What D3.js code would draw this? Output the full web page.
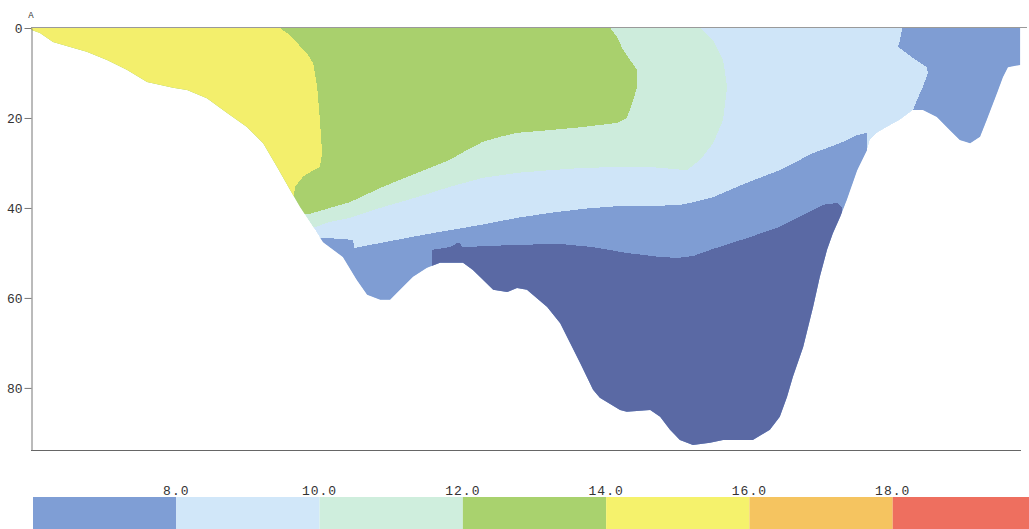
<!DOCTYPE html>
<html>
<head>
<meta charset="utf-8">
<script src="https://cdn.jsdelivr.net/npm/d3@7"></script>
<style>
  html, body { margin: 0; padding: 0; background: #ffffff; }
  svg { display: block; }
</style>
</head>
<body>
<svg id="chart" width="1029" height="529"></svg>
<script>
// ---- Section data: distance along section (km) and depth (m) ----
const depthTicks = [0, 20, 40, 60, 80];
const legendBreaks = [8, 10, 12, 14, 16, 18];
const legendColors = ["#7f9ed5", "#d1e7f9", "#cfeedd", "#a9d26e", "#f5f26c", "#f5c460", "#ee6f5f"];

// temperature classes drawn inside the section
const classColors = {
  below6: "#5a69a4",
  from6to8: "#7f9dd3",
  from8to10: "#cfe5f8",
  from10to12: "#cdecdc",
  from12to14: "#a9d06d",
  from14to16: "#f3ef6c"
};

// sea floor profile [distance, depth]
const seabed = [
  [0, 0.4], [2.0, 1.1], [4.9, 3.1], [9.3, 4.4], [12.4, 5.3], [16.9, 7.1], [21.3, 9.3],
  [25.8, 12.0], [31.6, 13.3], [34.7, 13.8], [39.1, 15.6], [43.6, 18.9], [48.0, 22.0],
  [51.6, 25.6], [54.7, 30.9], [57.6, 36.0], [59.8, 39.8], [62.7, 44.2], [64.9, 47.6],
  [69.3, 50.9], [72.4, 56.0], [74.7, 59.3], [77.6, 60.4], [79.8, 60.4], [82.0, 58.2],
  [84.9, 55.3], [88.0, 53.3], [90.9, 52.2], [96.0, 52.2], [98.2, 53.8], [102.7, 58.2],
  [105.8, 58.7], [108.0, 57.8], [110.2, 58.2], [114.7, 62.0], [117.6, 65.6], [119.8, 70.0],
  [122.0, 74.4], [124.9, 80.4], [126.4, 82.2], [130.9, 84.9], [132.4, 85.3], [137.6, 84.9],
  [139.8, 86.4], [142.0, 89.3], [144.2, 91.6], [147.1, 92.7], [150.9, 92.2], [153.8, 91.6],
  [160.4, 91.6], [164.2, 89.3], [166.4, 86.4], [168.0, 82.0], [169.3, 77.6], [171.6, 70.9],
  [173.8, 62.0], [175.3, 55.3], [176.9, 49.3], [178.2, 45.6], [179.8, 42.0], [181.3, 38.2],
  [183.6, 31.6], [185.8, 27.1], [186.4, 24.9], [188.0, 23.3], [190.2, 22.0], [193.1, 20.4],
  [196.0, 18.2], [198.2, 18.2], [201.3, 19.8], [204.2, 22.7], [206.4, 24.9], [208.7, 25.6],
  [210.9, 24.2], [212.4, 20.4], [214.7, 14.4], [216.0, 10.9], [217.1, 8.7], [219.8, 8.2],
  [219.8, 0]
];

// 14 degree isotherm (warm water lies to its left)
const iso14 = [
  [55.3, 0], [56.9, 1.1], [59.1, 3.3], [61.3, 5.6], [62.7, 7.8], [63.6, 13.1], [64.2, 20.4],
  [64.7, 27.8], [64.2, 30.9], [62.7, 31.6], [60.4, 33.1], [58.7, 35.3], [58.2, 38.9], [59.1, 40.9]
];

// 12 degree isotherm
const iso12 = [
  [128.7, 0], [130.2, 2.0], [131.6, 4.9], [133.1, 7.1], [134.7, 9.3], [134.7, 13.1],
  [133.6, 16.7], [132.4, 20.0], [130.2, 21.1], [122.7, 22.0], [115.3, 22.7], [108.0, 23.3],
  [104.2, 24.2], [100.4, 25.3], [96.9, 27.1], [93.1, 29.3], [85.8, 32.2], [78.2, 35.3],
  [70.9, 38.7], [66.4, 40.0], [62.0, 41.3], [60.4, 41.3]
];

// 10 degree isotherm
const iso10 = [
  [148.7, 0], [151.6, 2.7], [153.8, 7.1], [154.7, 13.1], [153.8, 20.4], [151.6, 25.6],
  [148.7, 29.3], [145.8, 31.6], [137.6, 30.9], [130.2, 30.9], [122.7, 31.1], [115.3, 31.6],
  [108.0, 32.2], [100.4, 33.3], [93.1, 35.3], [85.8, 37.6], [78.2, 39.8], [70.9, 42.2],
  [66.4, 43.1], [62.7, 44.4]
];

// 8 degree isotherm, lower layer (colder water beneath)
const iso8Deep = [
  [62.0, 46.4], [71.6, 47.1], [71.8, 48.9], [77.6, 47.8], [84.9, 46.4], [90.9, 45.3],
  [99.8, 43.8], [108.0, 42.2], [115.3, 41.1], [122.7, 40.2], [130.2, 39.6], [137.6, 39.6],
  [144.2, 39.3], [146.4, 38.9], [151.6, 37.6], [159.1, 34.4], [166.4, 31.6], [173.8, 27.8],
  [179.8, 25.6], [183.6, 23.8], [185.8, 23.3], [185.8, 27.8]
];

// 8 degree isotherm around the cold surface patch in the east
const iso8East = [
  [193.6, 0], [193.1, 2.7], [192.7, 4.2], [196.0, 6.7], [199.1, 8.7], [199.3, 10.0],
  [198.2, 13.1], [196.9, 16.0], [196.0, 18.2]
];

// 6 degree isotherm (bottom water core)
const iso6 = [
  [89.1, 49.3], [93.1, 48.7], [94.7, 47.8], [95.3, 47.8], [95.8, 48.7], [108.0, 48.2],
  [117.6, 48.0], [124.9, 48.7], [132.4, 50.0], [139.8, 50.9], [143.6, 51.1], [147.1, 50.7],
  [151.6, 49.1], [159.1, 46.7], [166.4, 44.2], [172.4, 41.1], [176.0, 39.3], [179.1, 38.9],
  [180.2, 39.8]
];

// ---- Layout ----
const svg = d3.select("#chart");
const plotLeft = 31, plotTop = 28, plotRight = 1021, plotBottom = 450;
const maxDist = 220, maxDepth = 93.8;

const x = d3.scaleLinear().domain([0, maxDist]).range([plotLeft, plotRight]);
const y = d3.scaleLinear().domain([0, maxDepth]).range([plotTop, plotBottom]);

const line = d3.line().x(d => x(d[0])).y(d => y(d[1]));
const deep = maxDepth + 10;

// polygons closed through the sea floor; the water clip trims them
const warmSide = pts => [[0, 0], ...pts, [pts[pts.length - 1][0], deep], [0, deep]];
const below = pts => [...pts, [pts[pts.length - 1][0], deep], [pts[0][0], deep]];
const eastSide = pts => [...pts, [pts[pts.length - 1][0], deep], [maxDist + 5, deep], [maxDist + 5, 0]];

const water = [[0, 0], ...seabed];

svg.append("defs").append("clipPath").attr("id", "water")
  .append("path").attr("d", line(water) + "Z");

const g = svg.append("g").attr("clip-path", "url(#water)");

const layers = [
  { pts: water, color: classColors.from8to10 },
  { pts: warmSide(iso10), color: classColors.from10to12 },
  { pts: warmSide(iso12), color: classColors.from12to14 },
  { pts: warmSide(iso14), color: classColors.from14to16 },
  { pts: below(iso8Deep), color: classColors.from6to8 },
  { pts: eastSide(iso8East), color: classColors.from6to8 },
  { pts: below(iso6), color: classColors.below6 }
];

g.selectAll("path.layer").data(layers).join("path")
  .attr("class", "layer")
  .attr("d", d => line(d.pts) + "Z")
  .attr("fill", d => d.color)
  .attr("shape-rendering", "crispEdges");

// ---- Frame lines ----
svg.append("line").attr("x1", plotLeft).attr("x2", plotRight + 6).attr("y1", plotTop - 0.5).attr("y2", plotTop - 0.5)
  .attr("stroke", "#9a9a9a").attr("stroke-width", 1);
svg.append("line").attr("x1", plotLeft).attr("x2", plotRight).attr("y1", plotBottom + 0.5).attr("y2", plotBottom + 0.5)
  .attr("stroke", "#666").attr("stroke-width", 1);

// ---- Depth axis ----
const yAxis = d3.axisLeft(y).tickValues(depthTicks).tickSize(7).tickSizeOuter(0).tickPadding(2)
  .tickFormat(d3.format("d"));
const ay = svg.append("g").attr("transform", `translate(${plotLeft + 0.5},0)`).call(yAxis);
ay.select(".domain").attr("stroke", "#777");
ay.selectAll(".tick line").attr("stroke", "#777");
ay.selectAll(".tick text").attr("fill", "#333")
  .style("font-family", "'Liberation Mono', 'DejaVu Sans Mono', monospace").style("font-size", "13px");

svg.append("text").attr("x", plotLeft).attr("y", 18).attr("text-anchor", "middle")
  .style("font-family", "'Liberation Mono', monospace").style("font-size", "9px").attr("fill", "#333")
  .text("A");

// ---- Colour bar ----
const lx = d3.scaleLinear().domain([6, 20]).range([plotLeft, 1034]);
const bins = d3.range(legendColors.length).map(i => ({ from: 6 + 2 * i, to: 8 + 2 * i, color: legendColors[i] }));
svg.append("g").selectAll("rect").data(bins).join("rect")
  .attr("x", d => lx(d.from) + 2).attr("width", d => lx(d.to) - lx(d.from))
  .attr("y", 497).attr("height", 40)
  .attr("fill", d => d.color);

svg.append("g").selectAll("text").data(legendBreaks).join("text")
  .attr("x", d => lx(d) + 2).attr("y", 495).attr("text-anchor", "middle")
  .style("font-family", "'Liberation Mono', 'DejaVu Sans Mono', monospace").style("font-size", "13px")
  .style("letter-spacing", "1px")
  .attr("fill", "#333")
  .text(d => d3.format(".1f")(d));
</script>
</body>
</html>
